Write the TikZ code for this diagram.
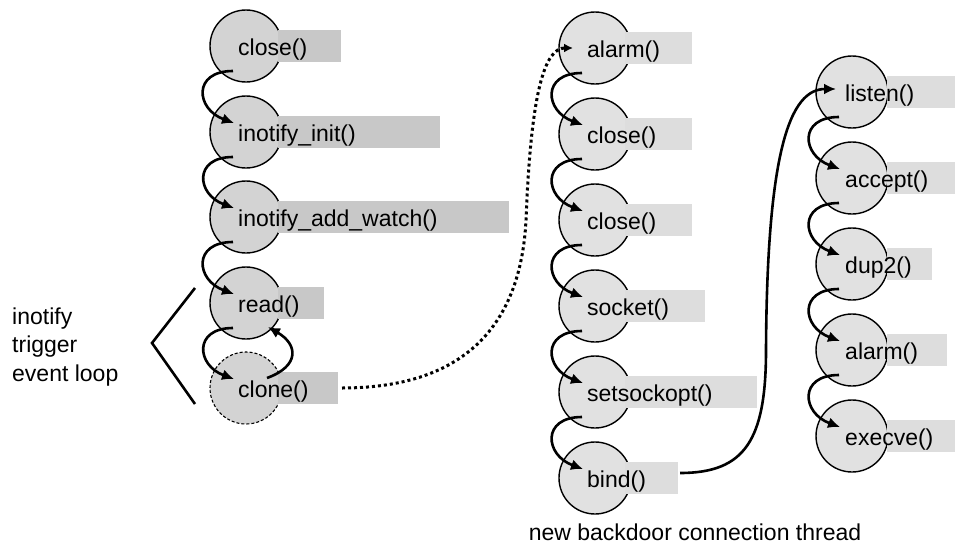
\documentclass[tikz,border=0pt]{standalone}
\usepackage{fontspec}
\setmainfont{Liberation Sans}
\usetikzlibrary{arrows.meta}

\definecolor{leftfill}{RGB}{211,211,211}
\definecolor{leftbox}{RGB}{200,200,200}
\definecolor{rightfill}{RGB}{225,225,225}
\definecolor{rightbox}{RGB}{221,221,221}

\tikzset{
    callnode/.style={shape=circle, draw, line width=1.4pt, minimum size=72pt, inner sep=0pt},
    calltext/.style={anchor=base west, inner sep=0pt, font=\fontsize{23}{28}\selectfont},
    nextcall/.style={line width=2.6pt, -{Latex[length=12pt,width=11pt]}},
}

\begin{document}
\begin{tikzpicture} [x=1pt, y=1pt]
        \useasboundingbox (0,0) rectangle (955,-554);
        \foreach \y/\txt/\bx [count=\i] in {46/close()/341, 132/inotify\_init()/440, 217/inotify\_add\_watch()/509, 303/read()/324}
        {
            \node [callnode, fill=leftfill] (l\i) at (246,-\y) {};
            \fill [leftbox] (278,-\y+16) rectangle (\bx,-\y-16);
            \coordinate (le\i) at (\bx,-\y);
            \node [calltext] (lt\i) at (238,-\y-9.5) {\txt};
        }
        \node [callnode, fill=leftfill, line width=1.1pt, dash pattern=on 3pt off 2pt] (l5) at (246,-388) {};
        \fill [leftbox] (278,-372) rectangle (338,-404);
        \coordinate (le5) at (338,-388);
        \node [calltext] (lt5) at (238,-397.5) {clone()};
        \foreach \y/\txt/\bx [count=\i] in {48/alarm()/692, 134/close()/692, 220/close()/692, 306/socket()/705, 392/setsockopt()/757, 478/bind()/678}
        {
            \node [callnode, fill=rightfill] (m\i) at (595,-\y) {};
            \fill [rightbox] (625,-\y+16) rectangle (\bx,-\y-16);
            \coordinate (me\i) at (\bx,-\y);
            \node [calltext] (mt\i) at (587,-\y-9.5) {\txt};
        }
        \foreach \y/\txt/\bx [count=\i] in {92/listen()/960, 178/accept()/960, 264/dup2()/932, 350/alarm()/947, 436/execve()/960}
        {
            \node [callnode, fill=rightfill] (r\i) at (852,-\y) {};
            \fill [rightbox] (887,-\y+16) rectangle (\bx,-\y-16);
            \coordinate (re\i) at (\bx,-\y);
            \node [calltext] (rt\i) at (845,-\y-9.5) {\txt};
        }
        \foreach \a/\b in {l1/l2, l2/l3, l3/l4, l4/l5, m1/m2, m2/m3, m3/m4, m4/m5, m5/m6, r1/r2, r2/r3, r3/r4, r4/r5}
            \draw [nextcall] ([shift={(-13,-25)}]\a.center) to [out=180, in=160, looseness=2] ([shift={(-12,9)}]\b.center);
        \draw [nextcall] ([shift={(21,10)}]l5.center) to [out=20, in=-30, looseness=1.75] ([shift={(22,-24)}]l4.center);
        \coordinate (dotbend) at (526,-220);
        \draw [line width=3pt, dash pattern=on 3pt off 3pt, -{Latex[length=9pt,width=9pt]}] ([xshift=4pt]le5) .. controls +(107,0) and +(-6,-120) .. (dotbend) .. controls +(5,130) and +(-28,0) .. ([xshift=-22pt]m1.center);
        \coordinate (longbend) at (766,-350);
        \draw [nextcall] ([shift={(2,5)}]me6) .. controls +(65,0) and +(0,-90) .. (longbend) .. controls +(1,200) and +(-46,0) .. ([shift={(-16,3)}]r1.center);
        \draw [line width=2.6pt] (195,-288) -- (152,-343) -- (195,-404);
        \node [anchor=west, align=left, inner sep=0pt, font=\fontsize{23}{28.5}\selectfont] (looplabel) at (12,-347) {inotify\\trigger\\event loop};
        \node [anchor=base, inner sep=0pt, font=\fontsize{23}{28}\selectfont] (threadlabel) at (695,-540) {new backdoor connection thread};
    \end{tikzpicture}
\end{document}
